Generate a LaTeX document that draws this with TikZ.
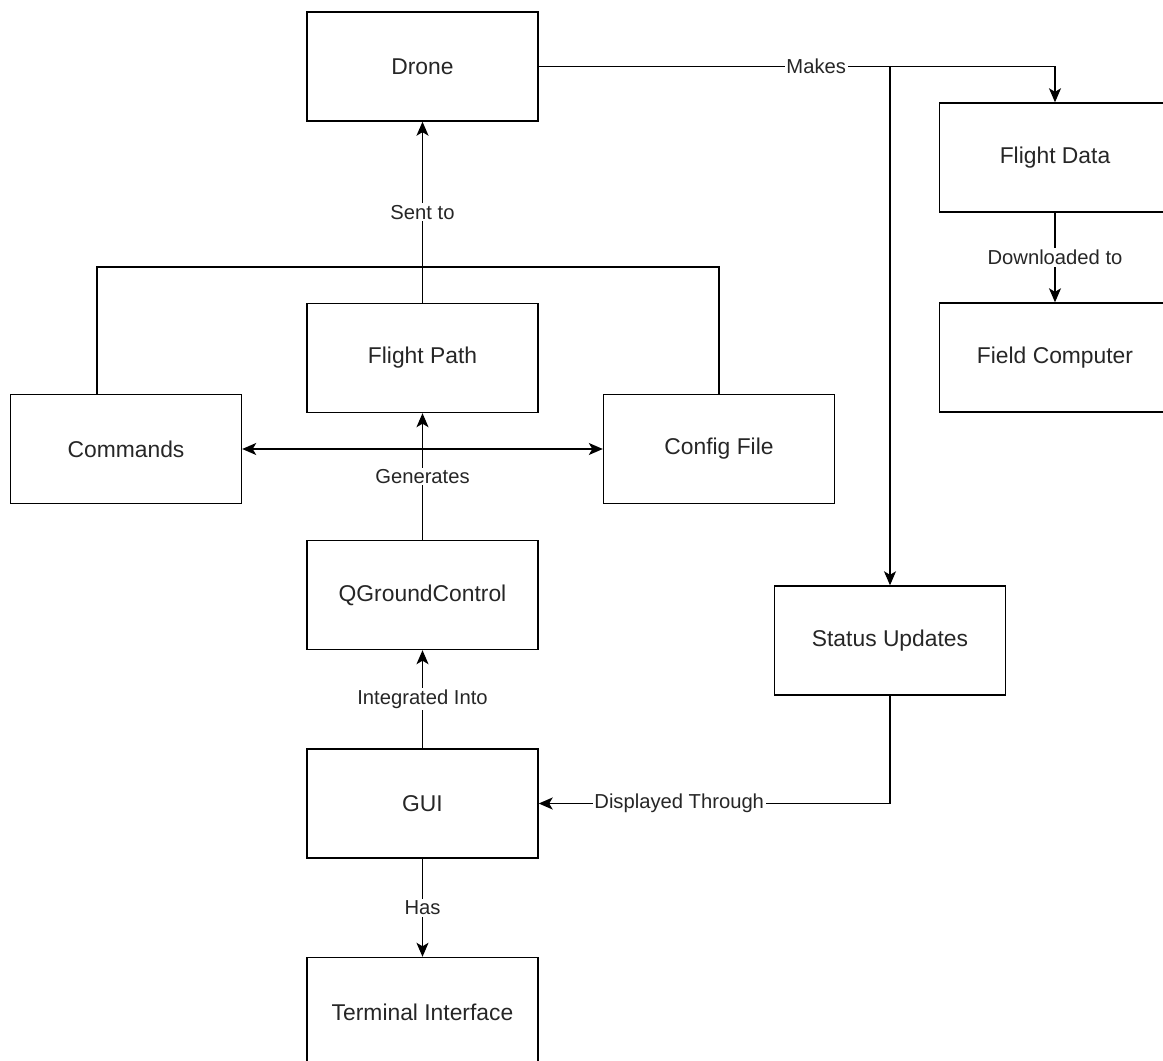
\documentclass[tikz,border=0pt]{standalone}
\usepackage{fontspec}
\setmainfont{Liberation Sans}
\usepackage{tikz}
\usetikzlibrary{arrows.meta,positioning}
\tikzset{
  blk/.style   ={draw, rectangle, minimum width=4.62cm, minimum height=2.18cm,
                 inner sep=0pt, line width=0.8pt, text=black!85,
                 font=\fontsize{13}{15}\selectfont},
  conn/.style  ={-{Stealth[length=2.8mm, width=2.4mm, inset=0.7mm]},
                 line width=0.75pt},
  both/.style  ={{Stealth[length=2.8mm, width=2.4mm, inset=0.7mm]}-{Stealth[length=2.8mm, width=2.4mm, inset=0.7mm]},
                 line width=0.75pt},
  plain/.style ={line width=0.75pt},
  elbl/.style  ={fill=white, inner sep=1pt, text=black!85,
                 font=\fontsize{11.5}{13}\selectfont},
}
\begin{document}
\begin{tikzpicture}
  \useasboundingbox (0,0) rectangle (23.26,-21.22);
  % centre column
  \node[blk] (drone)  at (8.45,-1.33)  {Drone};
  \node[blk] (fpath)  at (8.45,-7.16)  {Flight Path};
  \node[blk] (qgc)    at (8.45,-11.90) {QGroundControl};
  \node[blk] (gui)    at (8.45,-16.07) {GUI};
  \node[blk] (term)   at (8.45,-20.24) {Terminal Interface};
  % sides
  \node[blk] (cmds)   at (2.52,-8.98)  {Commands};
  \node[blk] (cfg)    at (14.38,-8.98) {Config File};
  \node[blk] (status) at (17.80,-12.81) {Status Updates};
  % right: data
  \node[blk] (fdata)  at (21.10,-3.15) {Flight Data};
  \node[blk] (fcomp)  at (21.10,-7.15) {Field Computer};
  \coordinate (join) at (8.45,-5.34);
  \coordinate (split) at (status.north |- drone.east);
  % edges
  \draw[conn] (fpath.north) -- node[elbl] {Sent to} (drone.south);
  \draw[plain] ([xshift=-0.58cm]cmds.north) |- (join);
  \draw[plain] (cfg.north) |- (join);
  \draw[both] (cmds.east) -- (cfg.west);
  \draw[conn] (qgc.north) -- node[elbl] {Generates} (fpath.south);
  \draw[conn] (gui.north) -- node[elbl] {Integrated Into} (qgc.south);
  \draw[conn] (gui.south) -- node[elbl] {Has} (term.north);
  \draw[conn] (drone.east) -- node[elbl, pos=0.79] {Makes} (split) -| (fdata.north);
  \draw[conn] (split) -- (status.north);
  \draw[conn] (fdata.south) -- node[elbl] {Downloaded to} (fcomp.north);
  \draw[conn] (status.south) |- node[elbl, pos=0.8] {Displayed Through} (gui.east);
\end{tikzpicture}
\end{document}
